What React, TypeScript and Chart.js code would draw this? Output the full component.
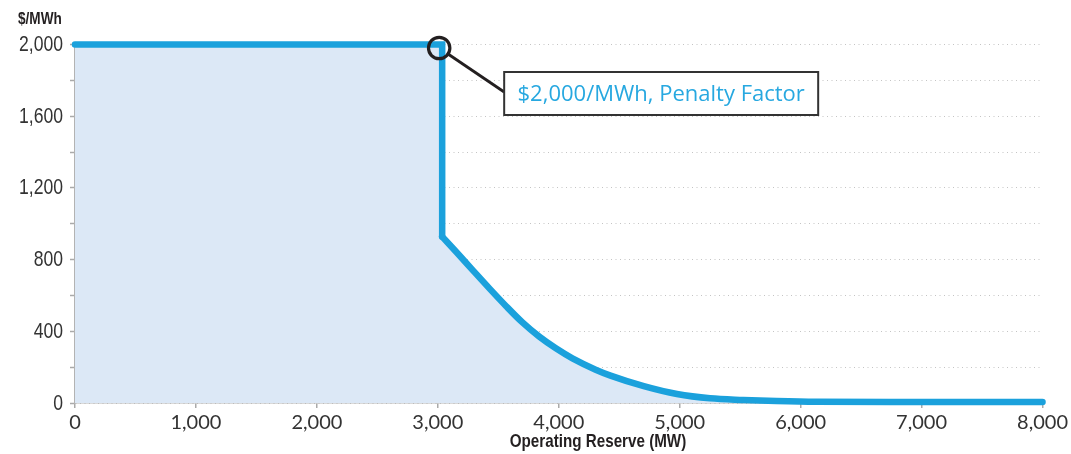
import React, { useEffect, useRef } from "react";
import { Chart, registerables } from "chart.js";

Chart.register(...registerables);

// ---- Data ----
const stepReserveMW = [0, 3036, 3036];
const stepPriceUSD = [2000, 2000, 928];

const curveReserveMW = [3036, 3153, 3290, 3428, 3565, 3702, 3839, 3976, 4113, 4305, 4428, 4703, 4977, 5251, 5526, 5800, 6129, 7000, 8000];
const curvePriceUSD = [928, 842, 740, 638, 540, 448, 370, 305, 249, 186, 153, 94, 50, 26, 17, 11, 7, 6, 6];

const xTickValues = [0, 1000, 2000, 3000, 4000, 5000, 6000, 7000, 8000];
const yTickValues = [0, 400, 800, 1200, 1600, 2000];

const penaltyPrice = 2000;
const penaltyLabel = "$2,000/MWh, Penalty Factor";
const yAxisTitle = "$/MWh";
const xAxisTitle = "Operating Reserve (MW)";

const LINE_COLOR = "#1ba1dc";
const FILL_COLOR = "#dce8f6";
const SANS = "'Liberation Sans', Arial, sans-serif";
const NARROW_SCALE = 0.8;

function fmt(v: number) {
  return Number(v).toLocaleString("en-US");
}

function narrowText(ctx: CanvasRenderingContext2D, text: string, x: number, y: number, align: CanvasTextAlign) {
  ctx.save();
  ctx.translate(x, y);
  ctx.scale(NARROW_SCALE, 1);
  ctx.textAlign = align;
  ctx.fillText(text, 0, 0);
  ctx.restore();
}

const annotationPlugin = {
  id: "penaltyAnnotation",
  afterDatasetsDraw(chart: any) {
    const { ctx } = chart;
    const xs = chart.scales.x;
    const ys = chart.scales.y;
    const px = xs.getPixelForValue(stepReserveMW[1]);
    const py = ys.getPixelForValue(penaltyPrice);
    const cx = px - 3;
    const cy = py + 3.5;
    const r = 10.7;
    ctx.save();
    ctx.strokeStyle = "#231f20";
    ctx.lineWidth = 3.2;
    ctx.beginPath();
    ctx.arc(cx, cy, r, 0, Math.PI * 2);
    ctx.stroke();
    const bx = cx + 65;
    const by = cy + 24;
    const bw = 314;
    const bh = 43;
    const ex = bx;
    const ey = by + 20;
    const ang = Math.atan2(ey - cy, ex - cx);
    ctx.lineWidth = 2.8;
    ctx.beginPath();
    ctx.moveTo(cx + r * Math.cos(ang), cy + r * Math.sin(ang));
    ctx.lineTo(ex, ey);
    ctx.stroke();
    ctx.fillStyle = "#ffffff";
    ctx.fillRect(bx, by, bw, bh);
    ctx.strokeStyle = "#333333";
    ctx.lineWidth = 2;
    ctx.strokeRect(bx, by, bw, bh);
    ctx.fillStyle = "#27a8e0";
    ctx.font = "22px 'Open Sans', sans-serif";
    ctx.textAlign = "center";
    ctx.textBaseline = "middle";
    ctx.fillText(penaltyLabel, bx + bw / 2, by + bh / 2 + 1);
    ctx.restore();
  },
  afterDraw(chart: any) {
    const { ctx } = chart;
    const ys = chart.scales.y;
    ctx.save();
    ctx.fillStyle = "#333333";
    ctx.font = `22px ${SANS}`;
    ctx.textBaseline = "middle";
    for (const v of yTickValues) {
      narrowText(ctx, fmt(v), ys.left + ys.width - 12, ys.getPixelForValue(v) + 0.5, "right");
    }
    ctx.fillStyle = "#231f20";
    ctx.font = `bold 17px ${SANS}`;
    narrowText(ctx, yAxisTitle, 18, 19, "left");
    ctx.font = `bold 19px ${SANS}`;
    narrowText(ctx, xAxisTitle, 598, 442, "center");
    ctx.restore();
  },
};

export default function App() {
  const canvasRef = useRef<HTMLCanvasElement | null>(null);

  useEffect(() => {
    if (!canvasRef.current) return;
    const stepData = stepReserveMW.map((x, i) => ({ x, y: stepPriceUSD[i] }));
    const curveData = curveReserveMW.map((x, i) => ({ x, y: curvePriceUSD[i] }));
    const areaData = [...stepData, ...curveData.slice(1)];

    const chart = new Chart(canvasRef.current, {
      type: "line",
      data: {
        datasets: [
          {
            data: stepData,
            borderColor: LINE_COLOR,
            borderWidth: 6.5,
            fill: false,
            pointRadius: 0,
            tension: 0,
            borderCapStyle: "round",
            borderJoinStyle: "miter",
            clip: false,
            order: 1,
          } as any,
          {
            data: curveData,
            borderColor: LINE_COLOR,
            borderWidth: 6.5,
            fill: false,
            pointRadius: 0,
            cubicInterpolationMode: "monotone",
            borderCapStyle: "round",
            borderJoinStyle: "round",
            clip: false,
            order: 2,
          } as any,
          {
            data: areaData,
            borderWidth: 0,
            borderColor: "rgba(0,0,0,0)",
            backgroundColor: FILL_COLOR,
            fill: "origin",
            pointRadius: 0,
            tension: 0,
            order: 3,
          } as any,
        ],
      },
      options: {
        animation: false,
        responsive: false,
        devicePixelRatio: 1,
        layout: { padding: { left: 0, right: 23.5, top: 44.5, bottom: 0 } },
        plugins: {
          legend: { display: false },
          tooltip: { enabled: false },
          title: { display: false },
        },
        scales: {
          x: {
            type: "linear",
            min: 0,
            max: 8000,
            afterFit: (scale: any) => {
              scale.height = 51;
            },
            afterBuildTicks: (scale: any) => {
              scale.ticks = xTickValues.map((v) => ({ value: v }));
            },
            ticks: {
              autoSkip: false,
              maxRotation: 0,
              padding: 3,
              color: "#333333",
              font: { family: "Lato, 'Open Sans', sans-serif", size: 20 },
              callback: (v: any) => fmt(v),
            },
            grid: {
              drawOnChartArea: false,
              drawTicks: true,
              tickLength: 5,
              color: "#aaaaaa",
              lineWidth: 1.5,
            },
            border: { display: true, color: "#b3b3b3", width: 1.5 },
          },
          y: {
            type: "linear",
            min: 0,
            max: 2000,
            afterFit: (scale: any) => {
              scale.width = 75;
            },
            ticks: {
              stepSize: 200,
              autoSkip: false,
              padding: 7,
              color: "rgba(0,0,0,0)",
              font: { family: SANS, size: 21 },
              callback: () => "",
            },
            grid: {
              drawOnChartArea: true,
              drawTicks: true,
              tickLength: 5,
              color: "#c4c4c4",
              lineWidth: 1,
              tickColor: "#aaaaaa",
              tickWidth: 1.5,
            } as any,
            border: { display: true, color: "#b3b3b3", width: 1.5, dash: [1, 3.5] },
          },
        },
      } as any,
      plugins: [annotationPlugin],
    });
    return () => chart.destroy();
  }, []);

  return (
    <div style={{ position: "fixed", left: 0, top: 0, width: 1071, height: 454, background: "#ffffff" }}>
      <canvas ref={canvasRef} width={1071} height={454} />
    </div>
  );
}
